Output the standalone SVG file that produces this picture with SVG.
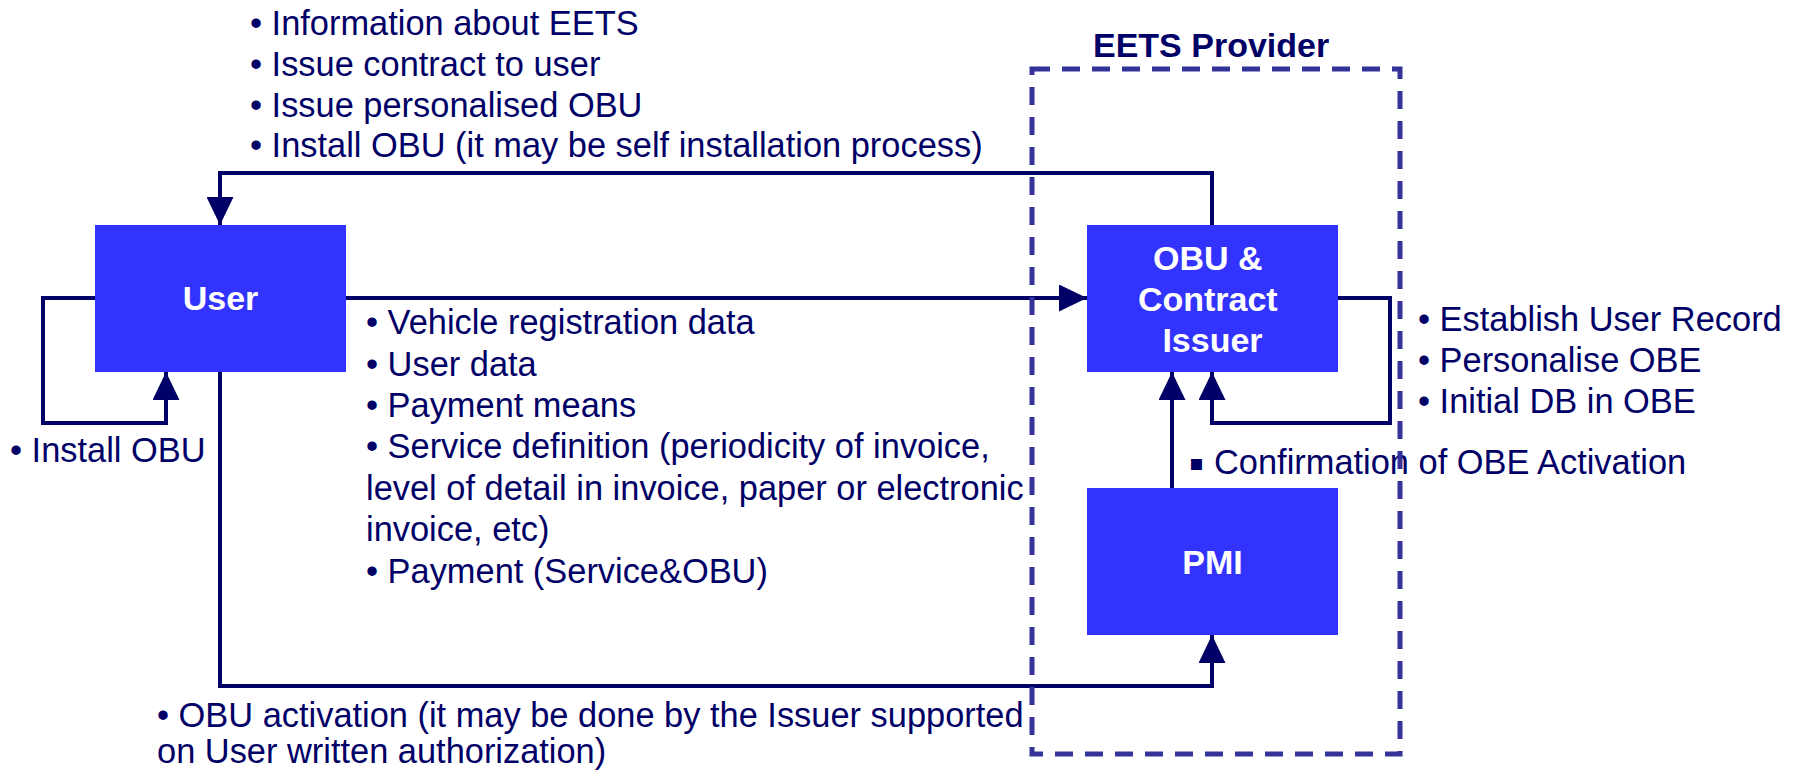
<svg xmlns="http://www.w3.org/2000/svg" width="1800" height="773" viewBox="0 0 1800 773">
  <style>
    .box { fill: #3333FF; }
    .nlabel { font-family: "Liberation Sans", Arial, sans-serif; font-weight: bold; font-size: 34px; fill: #FFFFFF; text-anchor: middle; }
    .txt { font-family: "Liberation Sans", Arial, sans-serif; font-size: 34.4px; fill: #000066; }
    .title { font-family: "Liberation Sans", Arial, sans-serif; font-weight: bold; font-size: 34px; fill: #000066; }
    .conn { fill: none; stroke: #000066; stroke-width: 4; }
    .group { fill: none; stroke: #333399; stroke-width: 5; stroke-dasharray: 18 12; }
    .sq { font-family: "DejaVu Sans", sans-serif; font-size: 22px; }
  </style>
  <defs>
    <marker id="arrow" markerUnits="userSpaceOnUse" markerWidth="28" markerHeight="27" refX="28" refY="13.5" orient="auto">
      <path d="M0,0 L28,13.5 L0,27 Z" fill="#000066"/>
    </marker>
  </defs>

  <g id="connectors">
    <path class="conn" d="M1212,225 V173 H220 V225" marker-end="url(#arrow)"/>
    <path class="conn" d="M346,298 H1087" marker-end="url(#arrow)"/>
    <path class="conn" d="M95,298 H43 V423 H166 V372" marker-end="url(#arrow)"/>
    <path class="conn" d="M220,372 V686 H1212 V635" marker-end="url(#arrow)"/>
    <path class="conn" d="M1172,488 V372" marker-end="url(#arrow)"/>
    <path class="conn" d="M1338,298 H1390 V423 H1212 V372" marker-end="url(#arrow)"/>
  </g>

  <g id="labels">
    <text class="txt">
      <tspan x="250" y="35">• Information about EETS</tspan>
      <tspan x="250" y="76">• Issue contract to user</tspan>
      <tspan x="250" y="117">• Issue personalised OBU</tspan>
      <tspan x="250" y="157">• Install OBU (it may be self installation process)</tspan>
    </text>
    <text class="txt">
      <tspan x="366" y="334">• Vehicle registration data</tspan>
      <tspan x="366" y="376">• User data</tspan>
      <tspan x="366" y="417">• Payment means</tspan>
      <tspan x="366" y="458">• Service definition (periodicity of invoice,</tspan>
      <tspan x="366" y="500">level of detail in invoice, paper or electronic</tspan>
      <tspan x="366" y="541">invoice, etc)</tspan>
      <tspan x="366" y="583">• Payment (Service&amp;OBU)</tspan>
    </text>
    <text class="txt" x="10" y="462">• Install OBU</text>
    <text class="txt">
      <tspan x="1418" y="331">• Establish User Record</tspan>
      <tspan x="1418" y="372">• Personalise OBE</tspan>
      <tspan x="1418" y="413">• Initial DB in OBE</tspan>
    </text>
    <text class="txt" y="474"><tspan class="sq" x="1189" y="470">▪</tspan><tspan x="1214" y="474">Confirmation of OBE Activation</tspan></text>
    <text class="txt">
      <tspan x="157" y="727">• OBU activation (it may be done by the Issuer supported</tspan>
      <tspan x="157" y="763">on User written authorization)</tspan>
    </text>
  </g>

  <g id="node-user">
    <rect class="box" x="95" y="225" width="251" height="147"/>
    <text class="nlabel" x="220.5" y="310">User</text>
  </g>
  <g id="node-obu-issuer">
    <rect class="box" x="1087" y="225" width="251" height="147"/>
    <text class="nlabel">
      <tspan x="1212.5" y="270">OBU &amp;</tspan>
      <tspan x="1212.5" y="311">Contract</tspan>
      <tspan x="1212.5" y="352">Issuer</tspan>
    </text>
  </g>
  <g id="node-pmi">
    <rect class="box" x="1087" y="488" width="251" height="147"/>
    <text class="nlabel" x="1212.5" y="574">PMI</text>
  </g>

  <g id="group-eets-provider">
    <text class="title" x="1093" y="57">EETS Provider</text>
    <rect class="group" x="1032" y="69" width="368" height="685"/>
  </g>
</svg>
